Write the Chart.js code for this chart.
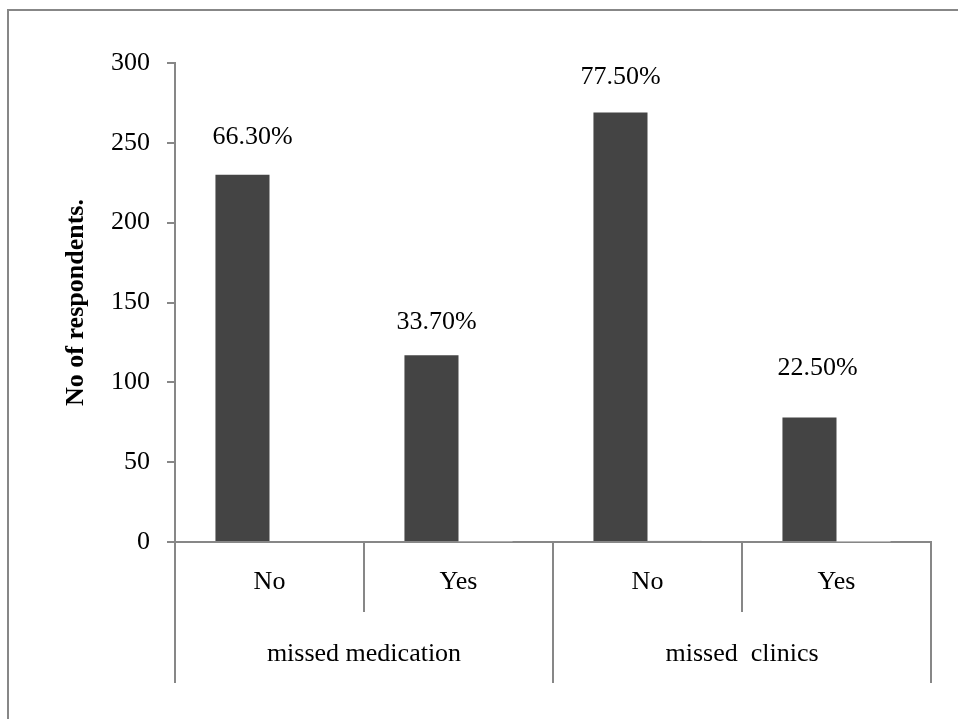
<!DOCTYPE html>
<html>
<head>
<meta charset="utf-8">
<title>Missed medication and missed clinics</title>
<script src="https://cdn.jsdelivr.net/npm/chart.js@4/dist/chart.umd.min.js"></script>
<style>
  html, body { margin: 0; padding: 0; background: #ffffff; }
  canvas { display: block; }
</style>
</head>
<body>
<canvas id="chart" width="958" height="719"></canvas>
<script>
// Answers along the x axis, grouped under two questions
const answers = ['No', 'Yes', 'No', 'Yes'];
const groups = ['missed medication', 'missed  clinics'];

// Number of respondents per answer
const respondents = [230, 117, 269, 78];

// Share of respondents per answer (fraction of the question's total)
const shares = [0.663, 0.337, 0.775, 0.225];

// Y axis range and tick step
const yMin = 0;
const yMax = 300;
const yStep = 50;

const serif = 'Liberation Serif, Times New Roman, serif';
const axisGrey = '#878787';

// White background and the thin frame round the figure
const framePlugin = {
  id: 'frame',
  beforeDraw(chart) {
    const ctx = chart.ctx;
    ctx.save();
    ctx.fillStyle = '#ffffff';
    ctx.fillRect(0, 0, chart.width, chart.height);
    ctx.strokeStyle = axisGrey;
    ctx.lineWidth = 2;
    ctx.beginPath();
    ctx.moveTo(8, chart.height);
    ctx.lineTo(8, 10);
    ctx.lineTo(chart.width, 10);
    ctx.stroke();
    ctx.restore();
  }
};

// Divider lines under the x axis and the question names below the answers
const categoryAxisPlugin = {
  id: 'categoryAxis',
  afterDraw(chart, args, opts) {
    const xs = chart.scales.x;
    const ctx = chart.ctx;
    const top = xs.top;
    const step = xs.getPixelForValue(1) - xs.getPixelForValue(0);
    const perGroup = answers.length / groups.length;
    ctx.save();
    ctx.strokeStyle = opts.color;
    ctx.lineWidth = opts.lineWidth;
    for (let i = 0; i <= answers.length; i++) {
      const px = Math.round(xs.getPixelForValue(0) - step / 2 + i * step);
      const len = (i % perGroup === 0) ? opts.outerLength : opts.innerLength;
      ctx.beginPath();
      ctx.moveTo(px, top);
      ctx.lineTo(px, top + len);
      ctx.stroke();
    }
    ctx.font = opts.font;
    ctx.fillStyle = '#000000';
    ctx.textAlign = 'center';
    ctx.textBaseline = 'middle';
    groups.forEach((g, gi) => {
      const first = xs.getPixelForValue(gi * perGroup);
      const last = xs.getPixelForValue(gi * perGroup + perGroup - 1);
      ctx.fillText(g, (first + last) / 2, top + opts.labelOffset);
    });
    ctx.restore();
  }
};

// Percentage labels above the respondent bars
const shareLabelPlugin = {
  id: 'shareLabels',
  afterDatasetsDraw(chart, args, opts) {
    const ctx = chart.ctx;
    const meta = chart.getDatasetMeta(0);
    ctx.save();
    ctx.font = opts.font;
    ctx.fillStyle = '#000000';
    ctx.textAlign = 'center';
    ctx.textBaseline = 'middle';
    meta.data.forEach((bar, i) => {
      const [dx, dy] = opts.nudge[i];
      ctx.fillText((shares[i] * 100).toFixed(2) + '%', bar.x + dx, bar.y + dy);
    });
    ctx.restore();
  }
};

new Chart(document.getElementById('chart'), {
  type: 'bar',
  data: {
    labels: answers,
    datasets: [
      {
        label: 'Respondents',
        data: respondents,
        backgroundColor: '#444444',
        borderWidth: 0,
        categoryPercentage: 0.572,
        barPercentage: 1.0
      },
      {
        label: 'Share',
        data: shares,
        backgroundColor: '#cdcdcd',
        borderWidth: 0,
        categoryPercentage: 0.572,
        barPercentage: 1.0
      }
    ]
  },
  options: {
    responsive: false,
    animation: false,
    events: [],
    layout: { padding: { left: 0, right: 27, top: 63, bottom: 0 } },
    plugins: {
      legend: { display: false },
      tooltip: { enabled: false },
      categoryAxis: {
        color: axisGrey,
        lineWidth: 2,
        innerLength: 70,
        outerLength: 141,
        labelOffset: 112,
        font: '26px ' + serif
      },
      shareLabels: {
        font: '26px ' + serif,
        nudge: [[10, -38], [5, -33], [0, -35], [8, -49]]
      }
    },
    scales: {
      x: {
        grid: { display: true, drawOnChartArea: false, drawTicks: false },
        border: { display: true, color: axisGrey, width: 2 },
        ticks: {
          color: '#000000',
          font: { family: serif, size: 26 },
          padding: 25,
          maxRotation: 0,
          autoSkip: false
        },
        afterFit(scale) { scale.height = 177; }
      },
      y: {
        min: yMin,
        max: yMax,
        ticks: {
          stepSize: yStep,
          color: '#000000',
          font: { family: serif, size: 26 },
          padding: 17
        },
        grid: {
          drawOnChartArea: false,
          drawTicks: true,
          tickLength: 8,
          color: axisGrey,
          lineWidth: 2
        },
        border: { display: true, color: axisGrey, width: 2 },
        title: {
          display: true,
          text: 'No of respondents.',
          color: '#000000',
          font: { family: serif, size: 26, weight: 'bold' },
          padding: { top: 61, bottom: 0 }
        },
        afterFit(scale) { scale.width = 175; }
      }
    }
  },
  plugins: [framePlugin, categoryAxisPlugin, shareLabelPlugin]
});
</script>
</body>
</html>
